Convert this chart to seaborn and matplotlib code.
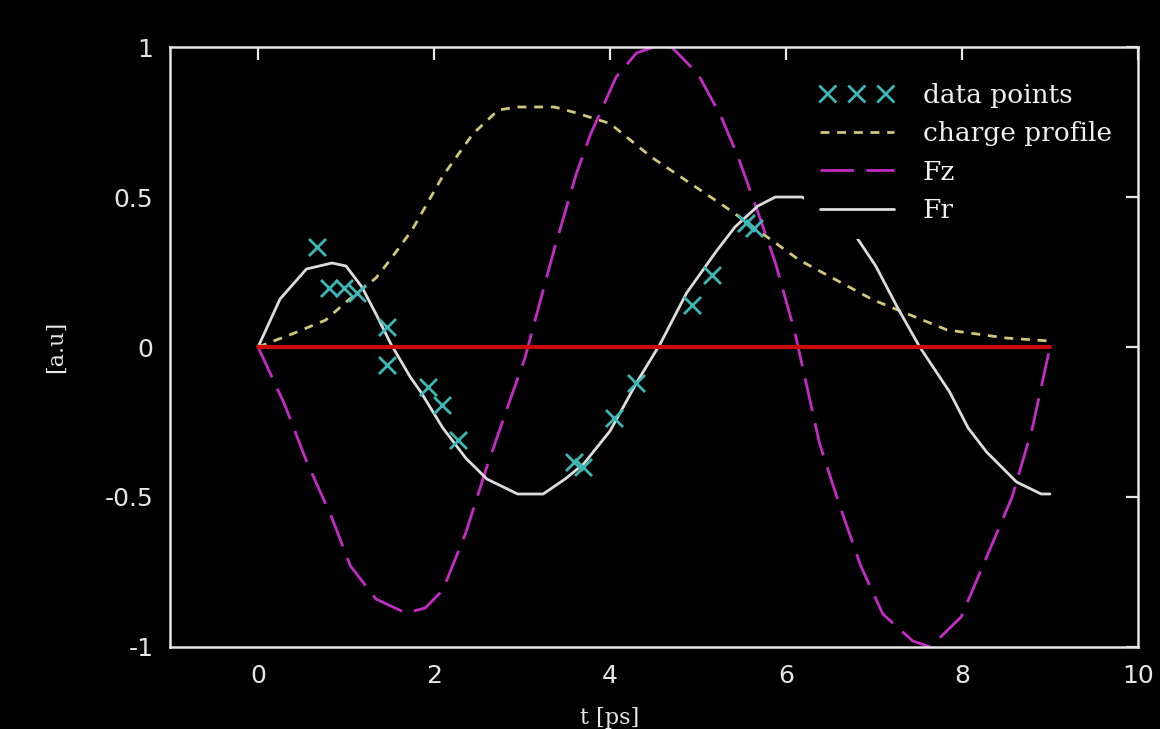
import matplotlib
matplotlib.use("Agg")
import matplotlib.pyplot as plt
import seaborn as sns
import pandas as pd

# ---- data ----
pts_t = [0.67, 0.81, 0.98, 1.13, 1.46, 1.46, 1.93, 2.09, 2.27,
         3.59, 3.69, 4.05, 4.30, 4.93, 5.16, 5.55, 5.64]
pts_v = [0.333, 0.197, 0.197, 0.18, 0.067, -0.06, -0.133, -0.193, -0.31,
         -0.383, -0.40, -0.237, -0.12, 0.14, 0.24, 0.413, 0.397]

charge_t = [0.0, 0.4, 0.77, 1.0, 1.34, 1.5, 1.75, 2.1, 2.44, 2.73, 2.95, 3.37,
            3.62, 4.0, 4.47, 5.31, 6.15, 6.99, 7.83, 8.5, 9.0]
charge_v = [0.0, 0.045, 0.09, 0.15, 0.23, 0.29, 0.39, 0.57, 0.71, 0.79, 0.80, 0.80,
            0.78, 0.745, 0.633, 0.467, 0.29, 0.157, 0.057, 0.03, 0.02]

fz_t = [0.0, 0.3, 0.55, 0.84, 1.05, 1.34, 1.68, 1.9, 2.1, 2.36, 2.6, 2.86, 3.03,
        3.37, 3.62, 3.78, 4.07, 4.3, 4.5, 4.7, 5.0, 5.26, 5.46, 5.68, 5.88, 6.1,
        6.38, 6.6, 6.85, 7.1, 7.44, 7.64, 7.99, 8.28, 8.57, 8.8, 9.0]
fz_v = [0.0, -0.19, -0.38, -0.57, -0.73, -0.84, -0.887, -0.87, -0.81, -0.62, -0.40, -0.18, -0.04,
        0.33, 0.58, 0.71, 0.90, 0.98, 1.0, 1.0, 0.91, 0.77, 0.63, 0.45, 0.28, 0.05,
        -0.32, -0.52, -0.73, -0.89, -0.98, -1.0, -0.90, -0.70, -0.50, -0.27, 0.0]

fr_t = [0.0, 0.25, 0.55, 0.84, 1.0, 1.18, 1.34, 1.51, 1.73, 1.85, 2.1, 2.36, 2.6,
        2.95, 3.24, 3.49, 3.7, 4.0, 4.32, 4.57, 4.87, 5.21, 5.42, 5.68, 5.88, 6.18,
        6.45, 6.77, 7.02, 7.27, 7.52, 7.86, 8.07, 8.28, 8.62, 8.9, 9.0]
fr_v = [0.0, 0.16, 0.26, 0.28, 0.27, 0.20, 0.11, 0.01, -0.10, -0.15, -0.27, -0.37, -0.44,
        -0.49, -0.49, -0.44, -0.39, -0.28, -0.11, 0.01, 0.18, 0.32, 0.40, 0.47, 0.50, 0.50,
        0.46, 0.38, 0.27, 0.13, 0.0, -0.15, -0.27, -0.35, -0.45, -0.49, -0.49]

zero_t = [0.0, 9.0]
zero_v = [0.0, 0.0]

xtick_vals = [0, 2, 4, 6, 8, 10]
xtick_labels = ["0", "2", "4", "6", "8", "10"]
ytick_vals = [-1, -0.5, 0, 0.5, 1]
ytick_labels = ["-1", "-0.5", "0", "0.5", "1"]

series_labels = ["data points", "charge profile", "Fz", "Fr"]

# ---- style ----
sns.set_theme(style="dark", rc={
    "axes.facecolor": "black",
    "figure.facecolor": "black",
    "axes.edgecolor": "#e6e6e6",
    "text.color": "white",
    "axes.labelcolor": "white",
    "xtick.color": "#e6e6e6",
    "ytick.color": "#e6e6e6",
    "axes.grid": False,
})
plt.rcParams["font.family"] = ["DejaVu Sans"]

fig = plt.figure(figsize=(11.6, 7.29), dpi=100)
ax = fig.add_axes([0.1466, 0.1125, 0.8344, 0.823])
ax.set_facecolor("black")

sns.scatterplot(x=pts_t, y=pts_v, ax=ax, marker="x", s=150, color="#3cb8b4",
                linewidth=2.0, label=series_labels[0], zorder=4)
sns.lineplot(x=charge_t, y=charge_v, ax=ax, sort=False, color="#cfc77a",
             linewidth=2.0, linestyle=(0, (3.2, 2.8)), label=series_labels[1], zorder=3)
sns.lineplot(x=fz_t, y=fz_v, ax=ax, sort=False, color="#c42ac4",
             linewidth=2.0, linestyle=(0, (12, 4.5)), label=series_labels[2], zorder=3)
sns.lineplot(x=fr_t, y=fr_v, ax=ax, sort=False, color="#dcdcdc",
             linewidth=2.0, label=series_labels[3], zorder=3)
sns.lineplot(x=zero_t, y=zero_v, ax=ax, sort=False, color="#cc0c0c",
             linewidth=3.0, zorder=3.5)

ax.set_xlim(-1, 10)
ax.set_ylim(-1, 1)
ax.set_xticks(xtick_vals)
ax.set_xticklabels(xtick_labels)
ax.set_yticks(ytick_vals)
ax.set_yticklabels(ytick_labels)

ax.tick_params(axis="both", direction="in", length=9, width=1.6,
               top=True, right=True, labelsize=18, colors="#e6e6e6")
ax.tick_params(axis="x", pad=12)
ax.tick_params(axis="y", pad=12)
for lbl in ax.get_xticklabels() + ax.get_yticklabels():
    lbl.set_color("#e6e6e6")

for sp in ax.spines.values():
    sp.set_visible(True)
    sp.set_color("#e6e6e6")
    sp.set_linewidth(1.8)
    sp.set_zorder(7)
ax.xaxis.set_zorder(6)
ax.yaxis.set_zorder(6)

ax.set_xlabel("t [ps]", fontfamily="DejaVu Serif", fontsize=16, color="#e6e6e6")
ax.set_ylabel("[a.u]", fontfamily="DejaVu Serif", fontsize=16, color="#e6e6e6")
ax.xaxis.set_label_coords(0.4545, -0.10)
ax.yaxis.set_label_coords(-0.107, 0.5)

handles, labels = ax.get_legend_handles_labels()
order = [labels.index(s) for s in series_labels]
leg = ax.legend([handles[i] for i in order], [labels[i] for i in order],
                loc="upper left", bbox_to_anchor=(0.655, 0.966), borderaxespad=0,
                frameon=True, facecolor="black", edgecolor="none", framealpha=1.0,
                prop={"family": "DejaVu Serif", "size": 19},
                handlelength=2.8, handletextpad=1.1, labelspacing=0.5,
                borderpad=0.6, scatterpoints=3, scatteryoffsets=[0.5])
leg.set_zorder(5)
for t in leg.get_texts():
    t.set_color("#f0f0f0")

fig.savefig("out.png", dpi=100, facecolor="black")
